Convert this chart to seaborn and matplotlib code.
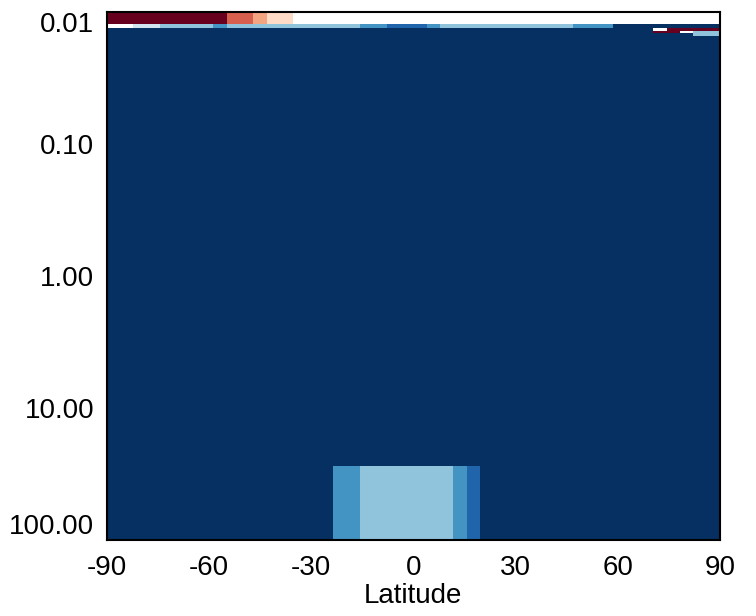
import numpy as np
import matplotlib
matplotlib.use("Agg")
import matplotlib.pyplot as plt
from matplotlib.colors import ListedColormap, BoundaryNorm
import seaborn as sns

# Latitude cell edges (46 cells of 180/46 deg) and pressure cell edges (hPa)
lat_edges = np.linspace(-90, 90, 47)
p_edges = [0.01, 0.0125, 0.0132, 0.0139, 0.0146, 0.0152, 27.7, 100.0]

# Field values per pressure row (class index 0 = dark blue ... 10 = dark red)
row_0010 = [10]*9 + [8]*2 + [7]*1 + [6]*2 + [5]*32
row_0125 = [5]*2 + [4]*2 + [3]*4 + [2]*1 + [3]*10 + [2]*2 + [1]*3 + [2]*1 + [3]*10 + [2]*3 + [0]*8
row_0132 = [0]*41 + [5]*1 + [10]*4
row_0139 = [0]*41 + [10]*2 + [5]*1 + [3]*2
row_0146 = [0]*44 + [3]*2
row_0152 = [0]*46
row_2770 = [0]*17 + [2]*2 + [3]*7 + [2]*1 + [1]*1 + [0]*18

field = np.array([row_0010, row_0125, row_0132, row_0139, row_0146, row_0152, row_2770], dtype=float)

y_ticks = [0.01, 0.1, 1.0, 10.0, 100.0]
y_ticklabels = ["0.01", "0.10", "1.00", "10.00", "100.00"]
x_ticks = [-90, -60, -30, 0, 30, 60, 90]

sns.set_theme(style="ticks")
plt.rcParams["font.family"] = ["Liberation Sans", "DejaVu Sans"]

fig = plt.figure(figsize=(7.56, 6.16), dpi=100)
ax = fig.add_axes([106.7/756, 1 - 540/616, (720 - 106.7)/756, (540 - 11.7)/616])

base = sns.color_palette("RdBu_r", as_cmap=True)
colors = [base(i / 10) for i in range(11)]
colors[5] = (1.0, 1.0, 1.0, 1.0)
cmap = ListedColormap(colors)
norm = BoundaryNorm(np.arange(-0.5, 11.5, 1), cmap.N)
ax.pcolormesh(lat_edges, p_edges, field, cmap=cmap, norm=norm, shading="flat")

ax.set_yscale("log")
ax.set_ylim(100, 0.01)
ax.set_xlim(-90, 90)

ax.set_yticks(y_ticks)
ax.set_yticklabels(y_ticklabels)
ax.yaxis.set_minor_locator(matplotlib.ticker.NullLocator())
ax.set_xticks(x_ticks)
ax.set_xticklabels([str(v) for v in x_ticks])
ax.xaxis.set_minor_locator(matplotlib.ticker.MultipleLocator(5))

ax.tick_params(axis="both", which="major", direction="in", length=7, width=1.2,
               color="black", labelsize=20, top=True, right=True, labelcolor="black")
ax.tick_params(axis="y", which="major", pad=9)
ax.tick_params(axis="x", which="major", pad=11)
ax.tick_params(axis="x", which="minor", direction="in", length=3.5, width=1.0,
               color="black", top=True, bottom=True)

labels = ax.get_yticklabels()
labels[0].set_verticalalignment("top")
labels[-1].set_verticalalignment("bottom")

for s in ax.spines.values():
    s.set_linewidth(1.5)
    s.set_color("black")

ax.set_xlabel("Latitude", fontsize=20, labelpad=1, color="black")

fig.savefig("out.png", dpi=100)
